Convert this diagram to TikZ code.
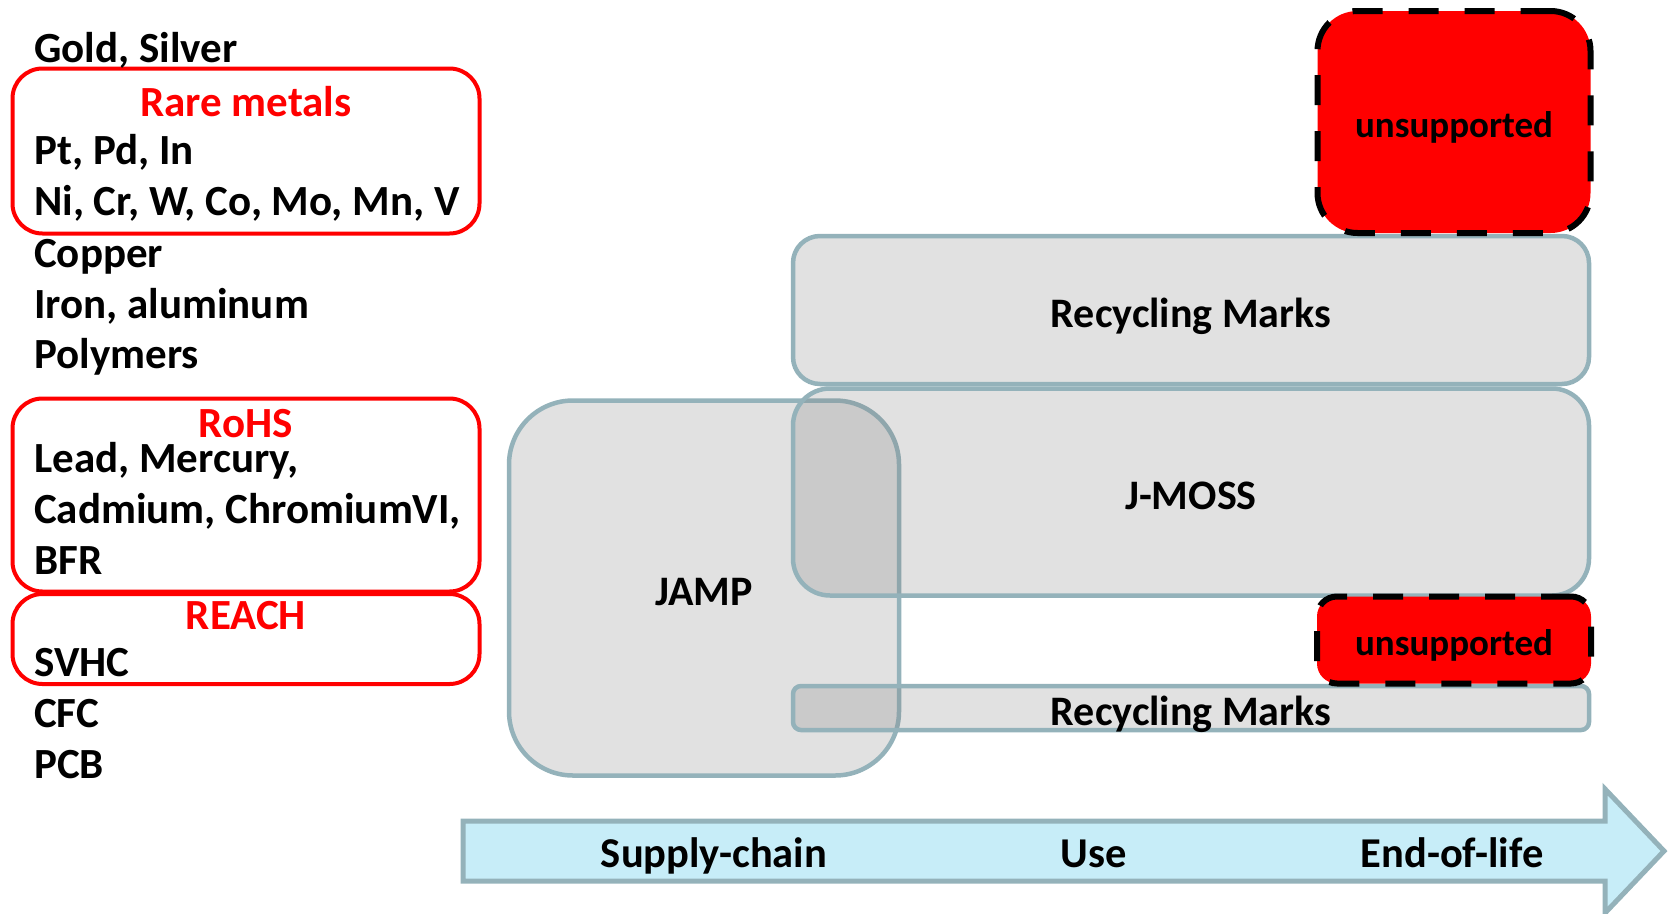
\documentclass[tikz,border=0pt]{standalone}
\usepackage{fontspec}
\setmainfont{Carlito}
\definecolor{boxline}{RGB}{148,178,186}
\definecolor{boxfill}{RGB}{128,128,128}
\definecolor{flow}{RGB}{199,237,248}

\begin{document}
\begin{tikzpicture}[x=1pt, y=-1pt,
    every node/.style={font=\fontsize{42}{51}\selectfont\bfseries},
    item/.style={anchor=west, inner sep=0pt, text height=29pt, text depth=0pt,
        font=\fontsize{43}{51}\selectfont\bfseries},
    heading/.style={item, anchor=center, text=red},
    step label/.style={inner sep=0pt, text height=29pt, text depth=0pt,
        font=\fontsize{42.5}{51}\selectfont\bfseries},
    group/.style={draw=red, line width=4pt, rounded corners=30pt, inner sep=0pt},
    greybox/.style={draw=boxline, line width=4.5pt, fill=boxfill, fill opacity=0.24,
        text opacity=1, inner sep=0pt, text height=35pt, text depth=0pt},
    nosupport/.style={draw=black, line width=6pt, dash pattern=on 30pt off 26pt, fill=red,
        inner sep=0pt, font=\fontsize{37}{44}\selectfont\bfseries, text height=31pt, text depth=0pt}]
    \useasboundingbox (0,0) rectangle (1669,913);

    %the life-cycle arrow
    \path[draw=boxline, line width=5pt, fill=flow, line join=miter]
        (463,821) -- (1605,821) -- (1605,789) -- (1664,851) -- (1605,913)
        -- (1605,881) -- (463,881) -- cycle;
    \node[step label] (supply) at (714,853) {Supply-chain};
    \node[step label] (use)    at (1094,853) {Use};
    \node[step label] (eol)    at (1452,853) {End-of-life};

    %define the schemes
    \node[greybox, minimum width=390pt, minimum height=375pt, rounded corners=64pt] (jamp) at (704,588) {JAMP};
    \node[greybox, minimum width=796pt, minimum height=148pt, rounded corners=27pt] (rm1) at (1191,310) {Recycling Marks};
    \node[greybox, minimum width=796pt, minimum height=207pt, rounded corners=37pt] (jmoss) at (1191,492) {J-MOSS};
    \node[greybox, minimum width=796pt, minimum height=44pt, rounded corners=8pt] (rm2) at (1191,708) {Recycling Marks};
    \node[nosupport, minimum width=273pt, minimum height=222pt, rounded corners=40pt] (un1) at (1454,122) {unsupported};
    \node[nosupport, minimum width=274pt, minimum height=87pt, rounded corners=20pt] (un2) at (1454,640) {unsupported};

    %define the substances
    \node[group, minimum width=467pt, minimum height=165pt] (rarebox)  at (246,151) {};
    \node[group, minimum width=467pt, minimum height=193pt] (rohsbox)  at (246,495) {};
    \node[group, minimum width=467pt, minimum height=90pt]  (reachbox) at (246,639) {};

    \node[item]    (gold)     at (34,48)  {Gold, Silver};
    \node[heading] (rare)     at (246,102) {Rare metals};
    \node[item]    (ptpd)     at (34,150) {Pt, Pd, In};
    \node[item]    (nicr)     at (34,201) {Ni, Cr, W, Co, Mo, Mn, V};
    \node[item]    (copper)   at (34,253) {Copper};
    \node[item]    (iron)     at (34,304) {Iron, aluminum};
    \node[item]    (polymers) at (34,354) {Polymers};
    \node[heading] (rohs)     at (246,423) {RoHS};
    \node[item]    (lead)     at (34,458) {Lead, Mercury,};
    \node[item]    (cadmium)  at (34,509) {Cadmium, ChromiumVI,};
    \node[item]    (bfr)      at (34,560) {BFR};
    \node[heading] (reach)    at (246,615) {REACH};
    \node[item]    (svhc)     at (34,662) {SVHC};
    \node[item]    (cfc)      at (34,713) {CFC};
    \node[item]    (pcb)      at (34,764) {PCB};
\end{tikzpicture}
\end{document}
